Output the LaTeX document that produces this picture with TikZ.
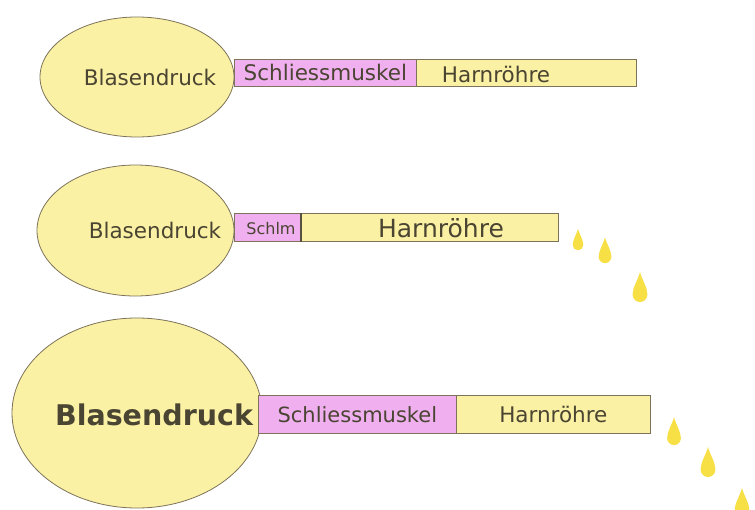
\documentclass[tikz,border=0pt]{standalone}
\usepackage{fontspec}
\setmainfont{DejaVu Sans}
\usetikzlibrary{shapes.geometric}
\definecolor{bladder}{RGB}{251,241,164}
\definecolor{muscle}{RGB}{240,176,240}
\definecolor{edgecol}{RGB}{125,115,90}
\definecolor{txt}{RGB}{74,68,50}
\definecolor{dropcol}{RGB}{247,224,70}
\tikzset{
  blase/.style={ellipse, draw=edgecol, line width=0.8pt, fill=bladder, inner sep=0pt},
  seg/.style={draw=edgecol, line width=0.7pt, inner sep=0pt, anchor=north west},
  muskel/.style={seg, fill=muscle},
  rohr/.style={seg, fill=bladder},
  lbl/.style={text=txt, inner sep=0pt, font=\fontsize{21.5}{24}\selectfont},
  pics/tropfen/.style={code={
    \fill[dropcol] (0,-12) .. controls (1.8,-6) and (5.3,-1) .. (5.3,4)
      arc[start angle=0, end angle=180, radius=5.3]
      .. controls (-5.3,-1) and (-1.8,-6) .. (0,-12);
  }}
}
\begin{document}
\begin{tikzpicture}[x=1pt, y=-1pt]
\useasboundingbox (0,0) rectangle (755,510);
% row 1
\node[blase, minimum width=194pt, minimum height=120pt] (b1) at (137,77) {};
\node[muskel, minimum width=182pt, minimum height=27pt] (m1) at (234,59) {};
\node[rohr, minimum width=220pt, minimum height=27pt] (r1) at (416,59) {};
\node[lbl] (tb1) at (150,77) {Blasendruck};
\node[lbl] (tm1) at (m1.center) {Schliessmuskel};
\node[lbl] (tr1) at (496,74) {Harnröhre};
% row 2
\node[blase, minimum width=197pt, minimum height=131pt] (b2) at (135.5,230.5) {};
\node[muskel, minimum width=66pt, minimum height=28pt] (m2) at (234,213) {};
\node[rohr, minimum width=258pt, minimum height=28pt] (r2) at (300,213) {};
\draw[edgecol!70!black, line width=2pt] (m2.north east) -- (m2.south east);
\node[lbl] (tb2) at (155,230) {Blasendruck};
\node[lbl, font=\fontsize{16}{18}\selectfont] (tm2) at (271,229) {Schlm};
\node[lbl, font=\fontsize{25}{28}\selectfont] (tr2) at (441,228) {Harnröhre};
% row 3
\node[blase, minimum width=250pt, minimum height=190pt] (b3) at (137,413) {};
\node[muskel, minimum width=198pt, minimum height=38pt] (m3) at (258,395) {};
\node[rohr, minimum width=194pt, minimum height=38pt] (r3) at (456,395) {};
\node[lbl, font=\fontsize{28.5}{32}\selectfont\bfseries] (tb3) at (154,415) {Blasendruck};
\node[lbl, font=\fontsize{21}{24}\selectfont] (tm3) at (m3.center) {Schliessmuskel};
\node[lbl] (tr3) at (r3.center) {Harnröhre};
% drops
\pic at (578,241) {tropfen};
\pic[scale=1.2] at (605,252) {tropfen};
\pic[scale=1.4] at (640,289) {tropfen};
\pic[scale=1.3] at (674,433) {tropfen};
\pic[scale=1.4] at (708,464) {tropfen};
\pic[scale=1.4] at (742,505) {tropfen};
\end{tikzpicture}
\end{document}
